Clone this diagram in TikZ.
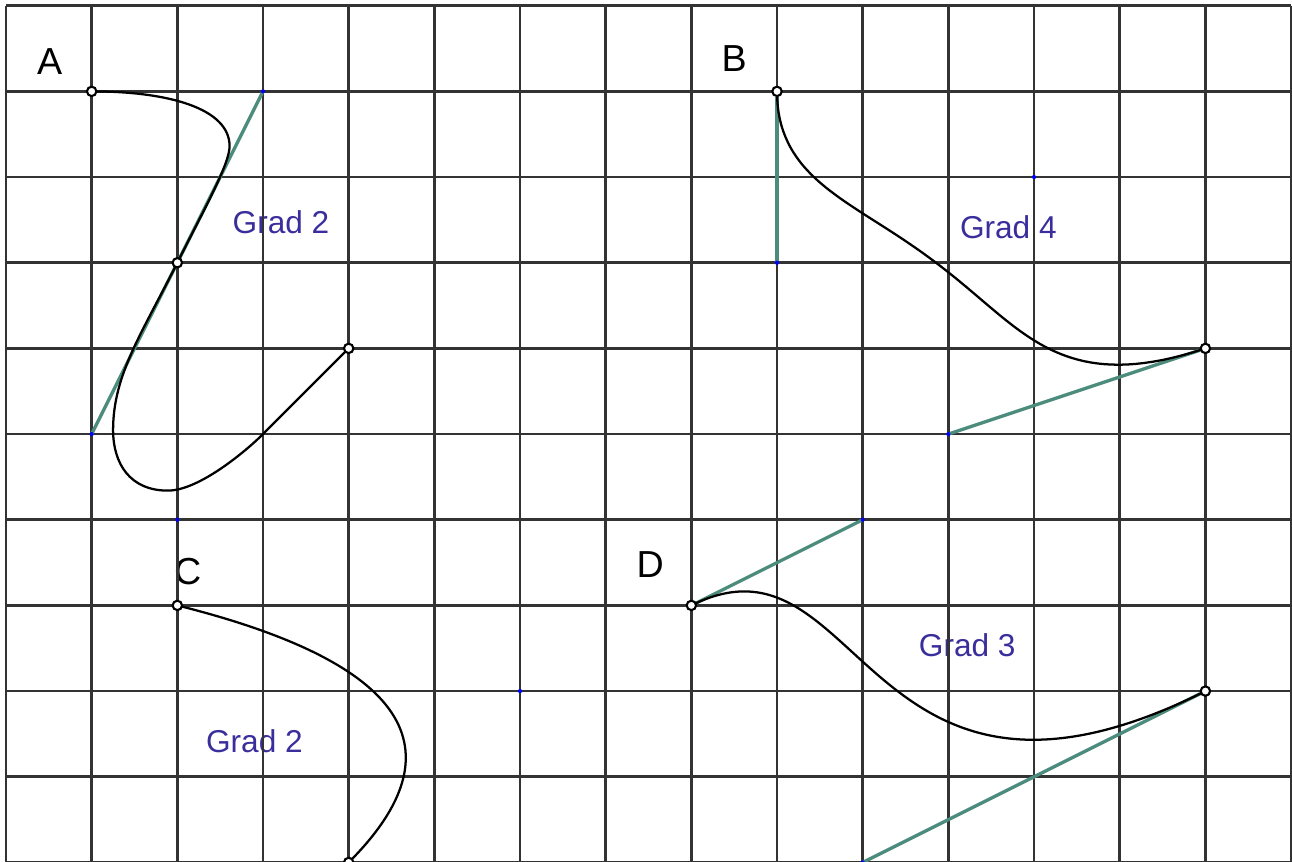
\documentclass[tikz,border=0pt]{standalone}
\usepackage{fontspec}
\setmainfont{Liberation Sans}
\usepackage{tikz}
\pgfdeclarelayer{background}
\pgfdeclarelayer{foreground}
\pgfsetlayers{background,main,foreground}
\definecolor{gridline}{HTML}{333333}
\definecolor{handle}{HTML}{4C8C7C}
\definecolor{gradtext}{HTML}{3A2E9C}
\definecolor{ctrlblue}{HTML}{0000FF}

\begin{document}
\begin{tikzpicture}[
    letter/.style={font=\fontsize{12.5}{14}\selectfont, text=black, inner sep=0pt},
    grad/.style={font=\fontsize{10.5}{12}\selectfont, text=gradtext, inner sep=0pt},
    gridlines/.style={draw=gridline, line width=0.85pt},
    tangent/.style={draw=handle, line width=1.1pt},
    curve/.style={draw=black, line width=0.75pt},
    pt/.style={circle, draw=black, fill=white, line width=0.7pt, inner sep=0pt, minimum size=0.11cm}
]
\useasboundingbox (-0.070,-9.984) rectangle (15.011,0.0665);

\coordinate (ah1) at (3,-1);
\coordinate (ah2) at (1,-5);
\coordinate (ah3) at (2,-6);
\coordinate (bh1) at (9,-3);
\coordinate (bh2) at (12,-2);
\coordinate (bh3) at (11,-5);
\coordinate (ch) at (6,-8);
\coordinate (dh1) at (10,-6);
\coordinate (dh2) at (10,-10);

\begin{pgfonlayer}{foreground}
\node[pt] (a1) at (1,-1) {};
\node[pt] (a2) at (2,-3) {};
\node[pt] (a3) at (4,-4) {};
\node[pt] (b1) at (9,-1) {};
\node[pt] (b2) at (14,-4) {};
\node[pt] (c1) at (2,-7) {};
\node[pt] (c2) at (4,-10) {};
\node[pt] (d1) at (8,-7) {};
\node[pt] (d2) at (14,-8) {};
\foreach \c in {ah1,ah2,ah3,bh1,bh2,bh3,ch,dh1,dh2}
    \fill[ctrlblue] (\c) circle (0.7pt);
\end{pgfonlayer}

\begin{pgfonlayer}{background}
\node[letter] (labA) at (0.51,-0.65) {A};
\node[letter] (labB) at (8.50,-0.62) {B};
\node[letter] (labC) at (2.12,-6.60) {C};
\node[letter] (labD) at (7.52,-6.52) {D};
\node[grad] (gradA) at (3.21,-2.53) {Grad 2};
\node[grad] (gradB) at (11.70,-2.58) {Grad 4};
\node[grad] (gradC) at (2.90,-8.58) {Grad 2};
\node[grad] (gradD) at (11.22,-7.47) {Grad 3};
\draw[gridlines] (0,-10) grid (15,0);
\end{pgfonlayer}

\draw[tangent] (ah1) -- (ah2);
\draw[tangent] (b1) -- (bh1);
\draw[tangent] (bh3) -- (b2);
\draw[tangent] (d1) -- (dh1);
\draw[tangent] (dh2) -- (d2);

\draw[curve] (a1.center) .. controls (1.9,-1) and (2.61,-1.2) .. (2.61,-1.64)
    .. controls (2.61,-1.85) and (2.3,-2.4) .. (a2.center)
    .. controls (1.6,-3.8) and (1.25,-4.3) .. (1.25,-4.95)
    .. controls (1.25,-5.35) and (1.45,-5.66) .. (1.89,-5.66)
    .. controls (2.25,-5.66) and (2.8,-5.2) .. (3,-5) -- (a3.center);
\draw[curve] plot[domain=0:1, samples=90, variable=\t]
    ({9*(1-\t)^4 + 36*(1-\t)^3*\t + 72*(1-\t)^2*\t^2 + 44*(1-\t)*\t^3 + 14*\t^4},
     {-(1*(1-\t)^4 + 12*(1-\t)^3*\t + 12*(1-\t)^2*\t^2 + 20*(1-\t)*\t^3 + 4*\t^4)});
\draw[curve] (c1.center) .. controls (4.667,-7.667) and (5.333,-8.667) .. (c2.center);
\draw[curve] (d1.center) .. controls (dh1) and (dh2) .. (d2.center);
\end{tikzpicture}
\end{document}
